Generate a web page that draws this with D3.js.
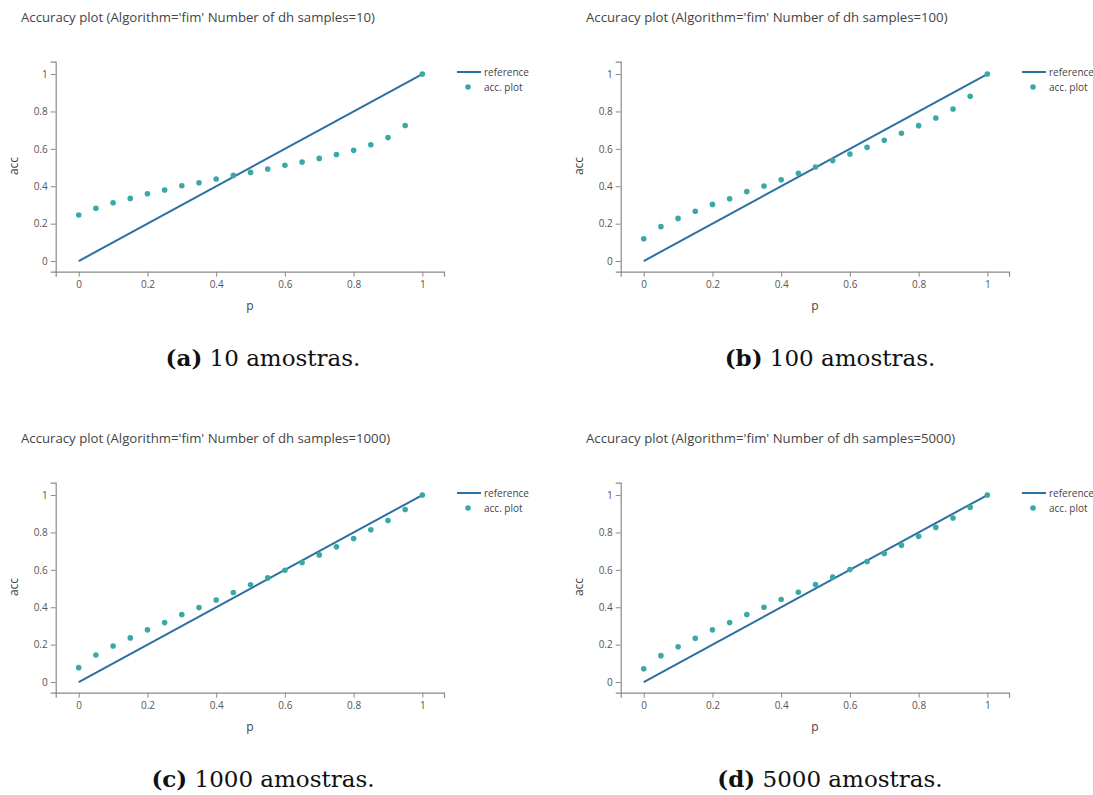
<!DOCTYPE html>
<html>
<head>
<meta charset="utf-8">
<script src="https://cdn.jsdelivr.net/npm/d3@7"></script>
<style>
  html, body { margin: 0; padding: 0; background: #fff; }
  svg { display: block; }
</style>
</head>
<body>
<svg id="chart" width="1093" height="795"></svg>
<script>
// p values shared by all four accuracy curves
const pValues = [0, 0.05, 0.1, 0.15, 0.2, 0.25, 0.3, 0.35, 0.4, 0.45, 0.5,
                 0.55, 0.6, 0.65, 0.7, 0.75, 0.8, 0.85, 0.9, 0.95, 1];

// accuracy per number of dh samples
const acc10   = [0.246, 0.282, 0.312, 0.335, 0.360, 0.380, 0.403, 0.419, 0.439, 0.458, 0.474,
                 0.492, 0.512, 0.529, 0.549, 0.570, 0.592, 0.622, 0.660, 0.725, 1.0];
const acc100  = [0.119, 0.184, 0.228, 0.266, 0.303, 0.333, 0.371, 0.401, 0.435, 0.469, 0.503,
                 0.537, 0.572, 0.608, 0.646, 0.683, 0.724, 0.765, 0.813, 0.881, 1.0];
const acc1000 = [0.077, 0.145, 0.193, 0.236, 0.279, 0.318, 0.361, 0.398, 0.439, 0.479, 0.520,
                 0.557, 0.598, 0.639, 0.680, 0.723, 0.768, 0.814, 0.864, 0.923, 1.0];
const acc5000 = [0.071, 0.141, 0.189, 0.234, 0.279, 0.318, 0.361, 0.400, 0.441, 0.480, 0.521,
                 0.561, 0.602, 0.645, 0.688, 0.732, 0.779, 0.827, 0.877, 0.934, 1.0];

// reference diagonal
const refP   = [0, 1];
const refAcc = [0, 1];

const sampleCounts = [10, 100, 1000, 5000];
const panelLetters = ["a", "b", "c", "d"];
const seriesList   = [acc10, acc100, acc1000, acc5000];
const tickValues   = [0, 0.2, 0.4, 0.6, 0.8, 1];

const svg = d3.select("#chart");
const sansFont = "'Open Sans', 'Noto Sans', sans-serif";
const lineColor = "#2b6fa3";
const dotColor = "#3aa9a6";
const textColor = "#444";

const offsets = [[0, 0], [565, 0], [0, 421], [565, 421]];

seriesList.forEach((acc, i) => {
  const [ox, oy] = offsets[i];
  const g = svg.append("g").attr("transform", `translate(${ox},${oy})`);

  const x = d3.scaleLinear().domain([-0.067, 1.063]).range([55.7, 444]);
  const y = d3.scaleLinear().domain([-0.057, 1.066]).range([271.7, 61.7]);

  // title
  g.append("text")
    .attr("x", 21).attr("y", 22)
    .attr("font-family", sansFont).attr("font-size", 13.2)
    .attr("fill", textColor)
    .text(`Accuracy plot (Algorithm='fim' Number of dh samples=${sampleCounts[i]})`);

  const fmt = d => String(+d.toFixed(1));

  // x axis
  const gx = g.append("g").attr("transform", "translate(0,271.7)")
    .call(d3.axisBottom(x).tickValues(tickValues).tickFormat(fmt).tickSizeOuter(0).tickSize(5).tickPadding(4));
  // y axis
  const gy = g.append("g").attr("transform", "translate(55.7,0)")
    .call(d3.axisLeft(y).tickValues(tickValues).tickFormat(fmt).tickSizeOuter(0).tickSize(5).tickPadding(3));

  [gx, gy].forEach(ax => {
    ax.select(".domain").attr("stroke", "#8a8a8a").attr("stroke-width", 1.2);
    ax.selectAll(".tick line").attr("stroke", "#8a8a8a");
    ax.selectAll(".tick text").attr("fill", "#555")
      .attr("font-family", sansFont).attr("font-size", 10);
  });

  // axis titles
  g.append("text")
    .attr("x", 250).attr("y", 310).attr("text-anchor", "middle")
    .attr("font-family", sansFont).attr("font-size", 12).attr("fill", textColor)
    .text("p");
  g.append("text")
    .attr("transform", "translate(18,166) rotate(-90)").attr("text-anchor", "middle")
    .attr("font-family", sansFont).attr("font-size", 12).attr("fill", textColor)
    .text("acc");

  // reference line
  const line = d3.line().x(d => x(d[0])).y(d => y(d[1]));
  g.append("path")
    .datum(refP.map((p, k) => [p, refAcc[k]]))
    .attr("d", line)
    .attr("fill", "none").attr("stroke", lineColor).attr("stroke-width", 2);

  // accuracy points
  g.selectAll("circle.acc")
    .data(pValues.map((p, k) => [p, acc[k]]))
    .enter().append("circle")
    .attr("class", "acc")
    .attr("cx", d => x(d[0])).attr("cy", d => y(d[1]))
    .attr("r", 2.8).attr("fill", dotColor);

  // legend
  const lg = g.append("g");
  lg.append("line").attr("x1", 457).attr("x2", 481).attr("y1", 72).attr("y2", 72)
    .attr("stroke", lineColor).attr("stroke-width", 2);
  lg.append("text").attr("x", 484).attr("y", 72).attr("dy", "0.35em")
    .attr("font-family", sansFont).attr("font-size", 10).attr("fill", textColor)
    .text("reference");
  lg.append("circle").attr("cx", 468).attr("cy", 87).attr("r", 2.8).attr("fill", dotColor);
  lg.append("text").attr("x", 484).attr("y", 87).attr("dy", "0.35em")
    .attr("font-family", sansFont).attr("font-size", 10).attr("fill", textColor)
    .text("acc. plot");

  // caption
  const cap = g.append("text")
    .attr("x", i % 2 === 0 ? 263 : 265).attr("y", 366).attr("text-anchor", "middle")
    .attr("font-family", "'DejaVu Serif', 'Liberation Serif', serif").attr("font-size", 23)
    .attr("fill", "#111");
  cap.append("tspan").attr("font-weight", "bold").text(`(${panelLetters[i]})`);
  cap.append("tspan").text(` ${sampleCounts[i]} amostras.`);
});
</script>
</body>
</html>
